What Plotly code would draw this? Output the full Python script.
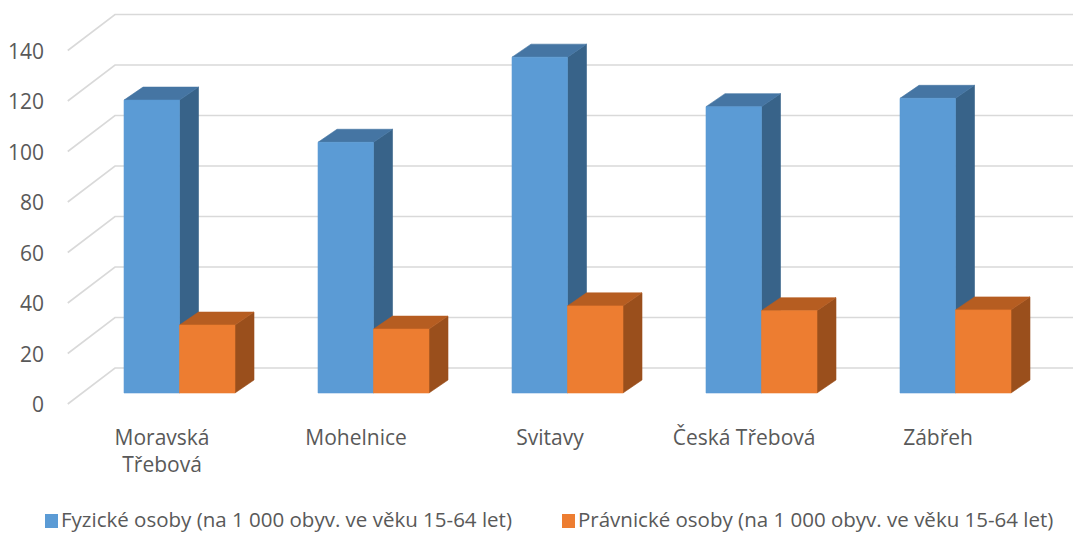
import plotly.graph_objects as go

# ---------------- data ----------------
categories = ["Moravská Třebová", "Mohelnice", "Svitavy", "Česká Třebová", "Zábřeh"]
tick_labels = ["Moravská<br>Třebová", "Mohelnice", "Svitavy", "Česká Třebová", "Zábřeh"]
fyzicke = [116.0, 99.3, 133.0, 113.4, 116.7]
pravnicke = [26.9, 25.3, 34.5, 32.6, 32.9]
y_ticks = [0, 20, 40, 60, 80, 100, 120, 140]
series_names = [
    "Fyzické osoby (na 1 000 obyv. ve věku 15-64 let)",
    "Právnické osoby (na 1 000 obyv. ve věku 15-64 let)",
]

# ---------------- styling / geometry ----------------
FONT = "Open Sans"
TXT = "#595959"
GRID = "#D9D9D9"
BLUE = ("#5B9BD5", "#4575A3", "#386389")      # front, top, side
ORANGE = ("#ED7D31", "#B65D21", "#9A4F1C")

BAR_W = 0.286          # width of one bar (category units)
DEPTH_X = 0.098        # oblique depth offset, x
DEPTH_Y = 5.15         # oblique depth offset, y (value units)
X_RANGE = [-0.9253, 4.6057]
Y_RANGE = [-55.45, 155.64]

# gridline wall projection (front edge / back wall)
FRONT_X, BACK_X = -0.576, -0.3325
FRONT_DY, BACK_DY = -4.36, 9.90
LABEL_DX = -0.09

fig = go.Figure()

# ---- gridlines on the back wall with oblique left returns ----
gx, gy = [], []
for v in y_ticks:
    gx += [FRONT_X, BACK_X, X_RANGE[1], None]
    gy += [v + FRONT_DY, v + BACK_DY, v + BACK_DY, None]
fig.add_trace(go.Scatter(x=gx, y=gy, mode="lines",
                         line=dict(color=GRID, width=1.6),
                         hoverinfo="skip", showlegend=False))


def faces(values, offset):
    fx, fy, tx, ty, sx, sy = [], [], [], [], [], []
    for i, v in enumerate(values):
        x0 = i + offset
        x1 = x0 + BAR_W
        fx += [x0, x1, x1, x0, x0, None]
        fy += [0, 0, v, v, 0, None]
        tx += [x0, x0 + DEPTH_X, x1 + DEPTH_X, x1, x0, None]
        ty += [v, v + DEPTH_Y, v + DEPTH_Y, v, v, None]
        sx += [x1, x1 + DEPTH_X, x1 + DEPTH_X, x1, x1, None]
        sy += [0, DEPTH_Y, v + DEPTH_Y, v, 0, None]
    return (fx, fy), (tx, ty), (sx, sy)


for vals, off, cols in [(fyzicke, -BAR_W, BLUE), (pravnicke, 0.0, ORANGE)]:
    front, top, side = faces(vals, off)
    for (xx, yy), c in [(side, cols[2]), (top, cols[1]), (front, cols[0])]:
        fig.add_trace(go.Scatter(x=xx, y=yy, mode="lines", fill="toself",
                                 fillcolor=c, line=dict(color=c, width=0.6),
                                 hoverinfo="skip", showlegend=False))

# ---- legend (custom, Excel-like) ----
legend_items = [(series_names[0], BLUE[0], 45), (series_names[1], ORANGE[0], 562)]
for name, col, px in legend_items:
    fig.add_shape(type="rect", xref="paper", yref="paper",
                  x0=px / 1073, x1=(px + 13) / 1073,
                  y0=1 - 528 / 533, y1=1 - 514 / 533,
                  fillcolor=col, line=dict(width=0))
    fig.add_annotation(text=name, xref="paper", yref="paper",
                       x=(px + 15) / 1073, y=1 - 519 / 533,
                       xanchor="left", yanchor="middle", showarrow=False,
                       borderpad=0,
                       font=dict(family=FONT, size=20.5, color=TXT))

fig.update_layout(
    width=1073, height=533,
    margin=dict(l=0, r=0, t=0, b=0),
    paper_bgcolor="white", plot_bgcolor="white",
    showlegend=False,
    font=dict(family=FONT, size=21, color=TXT),
    xaxis=dict(range=X_RANGE, showgrid=False, zeroline=False, showline=False,
               tickmode="array",
               tickvals=[i + LABEL_DX for i in range(len(categories))],
               ticktext=tick_labels, ticks="",
               anchor="free", position=1 - 423 / 533,
               tickfont=dict(family=FONT, size=21, color=TXT),
               fixedrange=True),
    yaxis=dict(range=Y_RANGE, showgrid=False, zeroline=False, showline=False,
               tickmode="array", tickvals=y_ticks, ticks="",
               anchor="free", position=47 / 1073,
               ticklabelshift=12, ticklabelstandoff=3,
               tickfont=dict(family=FONT, size=21, color=TXT),
               fixedrange=True),
)

fig.write_html("out.html", config={"displayModeBar": False},
               post_script="document.body.style.margin='0px';"
                           "document.body.style.overflow='hidden';")
